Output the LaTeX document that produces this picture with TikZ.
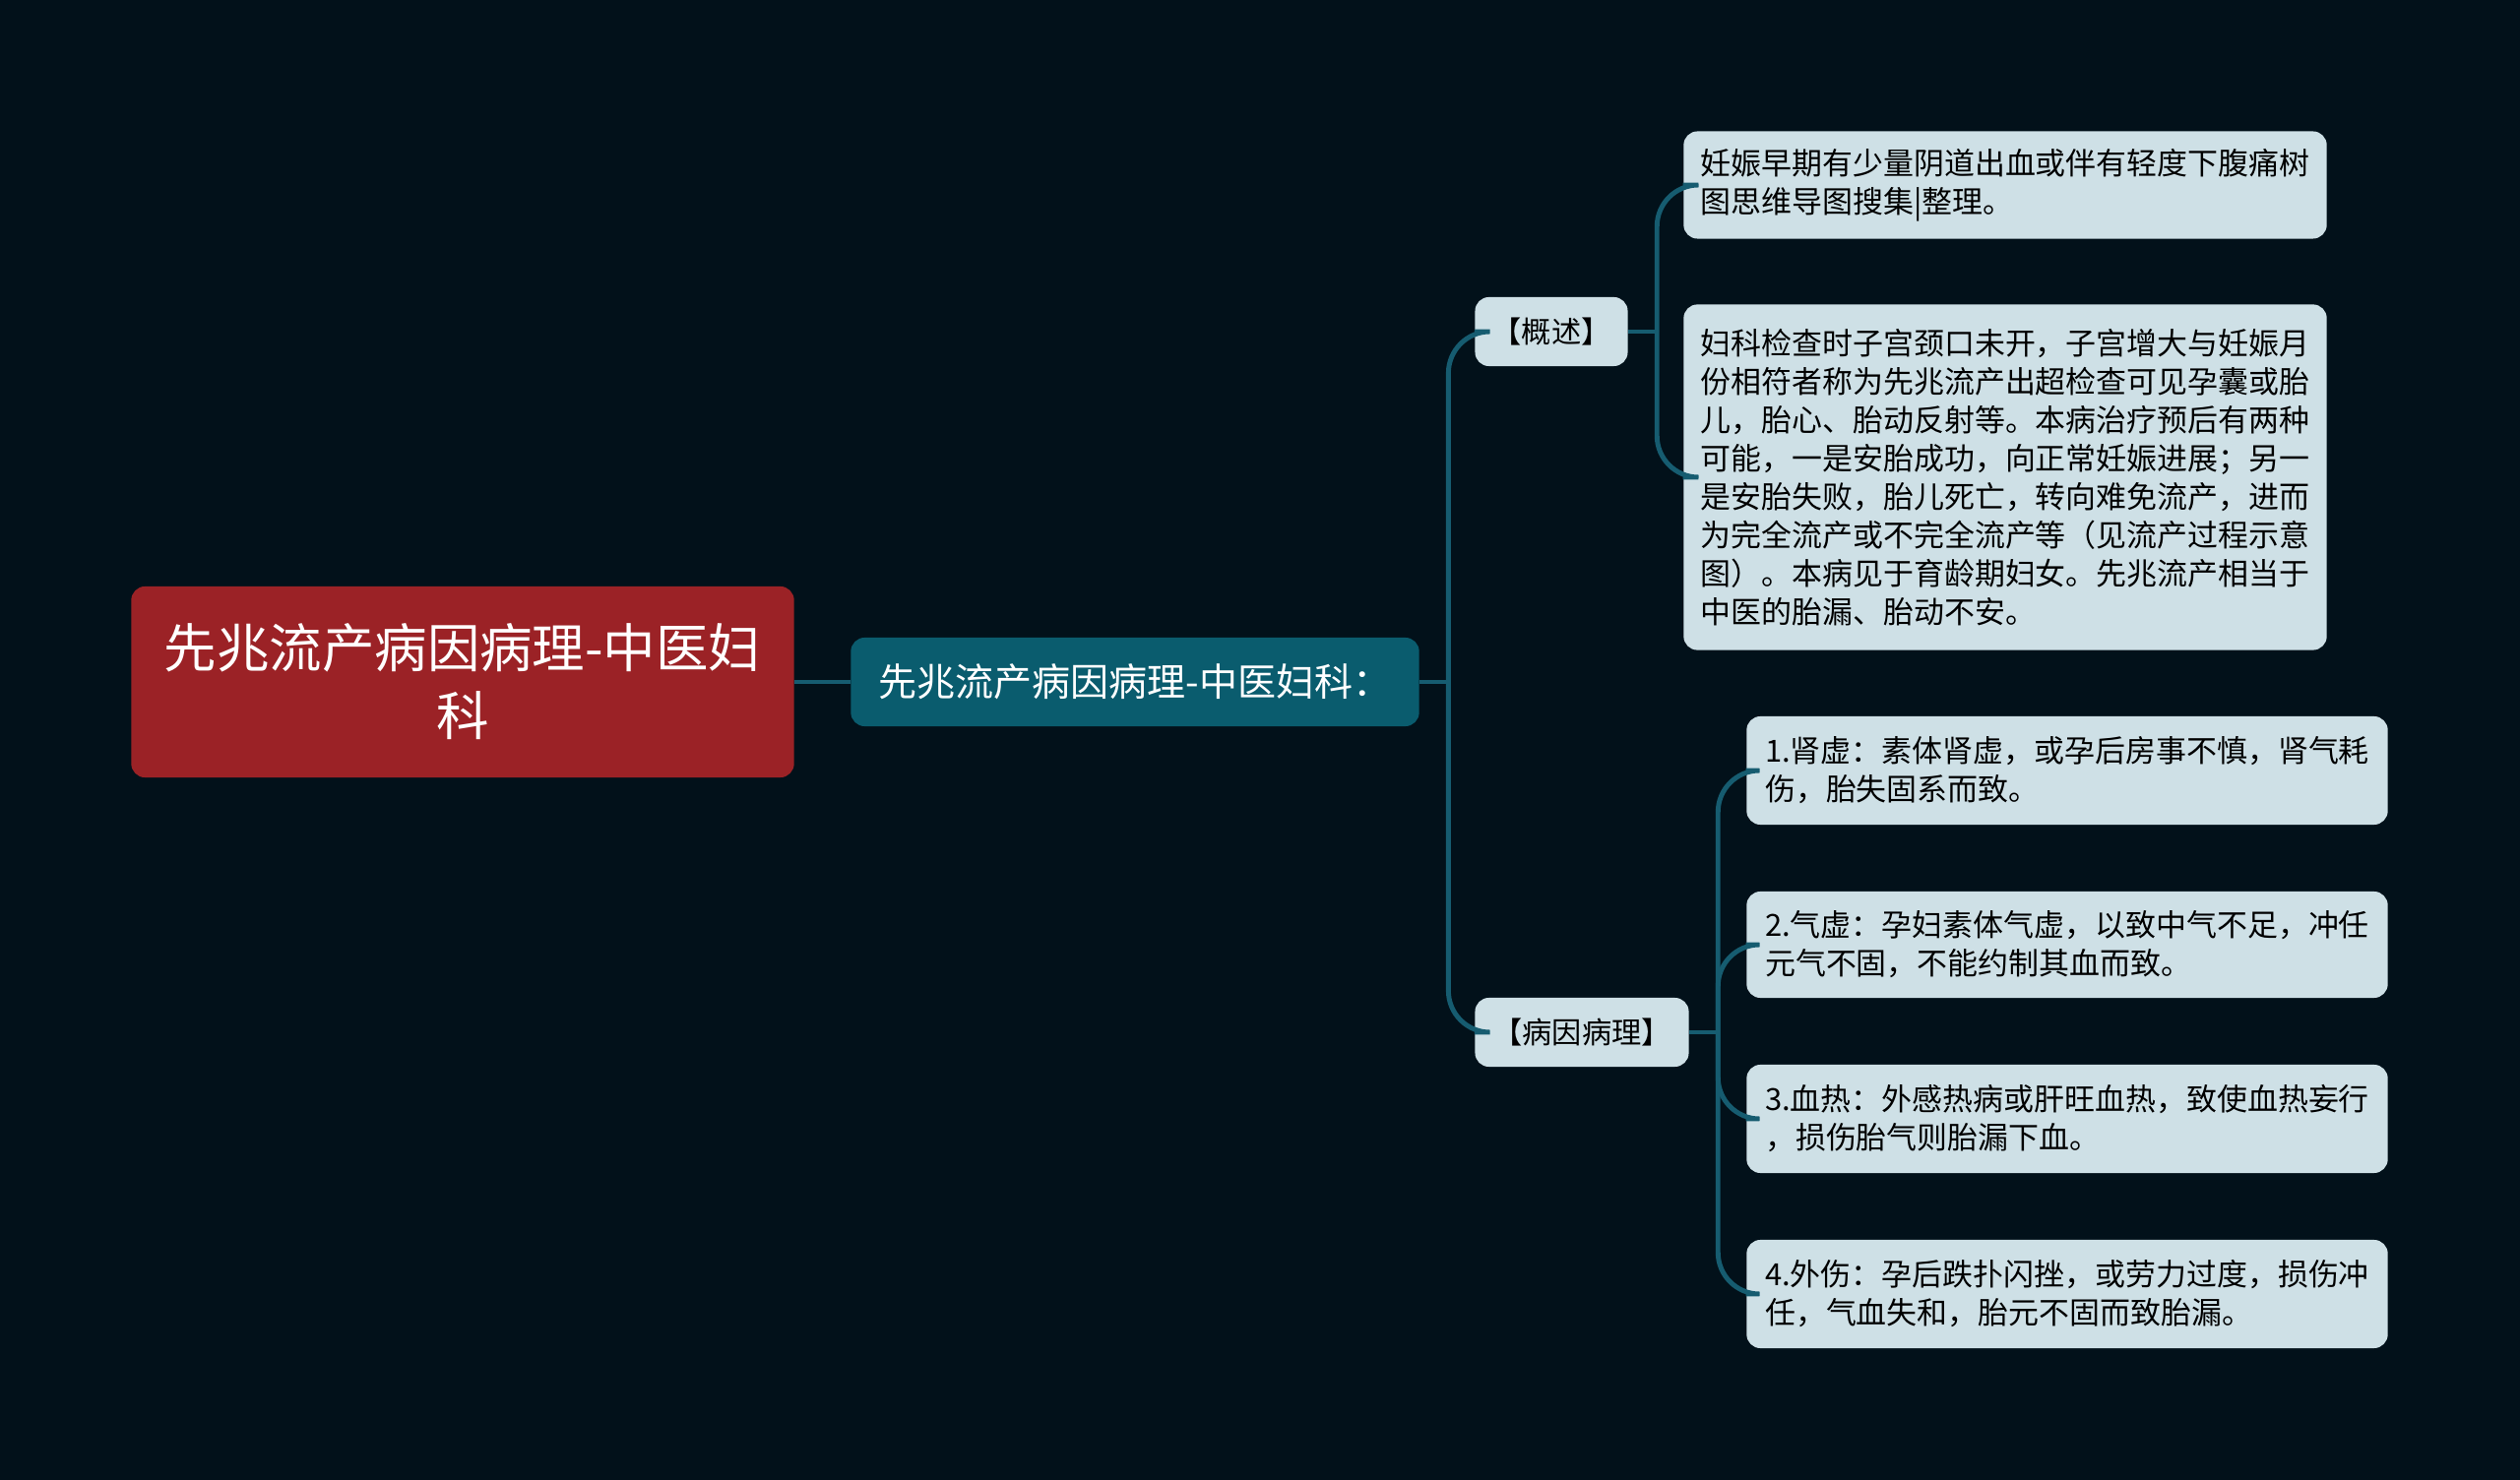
\documentclass[tikz,border=0pt]{standalone}
\usepackage{fontspec}
\setmainfont{Noto Sans CJK SC}
\usepackage{tikz}
\usetikzlibrary{calc}
\definecolor{bgcol}{RGB}{2,17,26}
\definecolor{rootcol}{RGB}{155,34,38}
\definecolor{maincol}{RGB}{10,92,110}
\definecolor{leafcol}{RGB}{206,224,230}
\definecolor{linkcol}{RGB}{22,92,112}
\tikzset{
  rootbox/.style={fill=rootcol, rounded corners=4pt, text=white, align=center,
    minimum width=6.73cm, minimum height=1.94cm, inner sep=0pt,
    font=\fontsize{15.2pt}{19.6pt}\selectfont},
  mainbox/.style={fill=maincol, rounded corners=4pt, text=white,
    minimum width=5.77cm, minimum height=0.9cm, inner sep=0pt,
    font=\fontsize{11.1pt}{13pt}\selectfont},
  tagbox/.style={fill=leafcol, rounded corners=4pt, text=black,
    minimum height=0.7cm, inner sep=0pt,
    font=\fontsize{8.6pt}{10.5pt}\selectfont},
  leafbox/.style={fill=leafcol, rounded corners=4pt, text=black, align=left,
    inner sep=0pt, font=\fontsize{8.8pt}{11.1pt}\selectfont},
  link/.style={draw=linkcol, line width=1.4pt, rounded corners=12}
}
\begin{document}
\begin{tikzpicture}[x=0.01cm, y=-0.01cm]
    \fill[bgcol] (0,0) rectangle (2560,1504);
    \useasboundingbox (0,0) rectangle (2560,1504);

    % nodes
    \node[rootbox] (root) at (470,693) {先兆流产病因病理-中医妇\\科};
    \node[mainbox] (main) at (1153,693) {先兆流产病因病理-中医妇科：};

    \node[tagbox, minimum width=1.55cm] (gaishu) at (1576,337) {【概述】};
    \node[tagbox, minimum width=2.17cm] (bingyin) at (1607,1049) {【病因病理】};

    \node[leafbox, minimum width=6.53cm, minimum height=1.09cm] (gs1) at (2037,188)
      {妊娠早期有少量阴道出血或伴有轻度下腹痛树\\图思维导图搜集|整理。};
    \node[leafbox, minimum width=6.53cm, minimum height=3.51cm] (gs2) at (2037,485)
      {妇科检查时子宫颈口未开，子宫增大与妊娠月\\
       份相符者称为先兆流产出超检查可见孕囊或胎\\
       儿，胎心、胎动反射等。本病治疗预后有两种\\
       可能，一是安胎成功，向正常妊娠进展；另一\\
       是安胎失败，胎儿死亡，转向难免流产，进而\\
       为完全流产或不完全流产等（见流产过程示意\\
       图）。本病见于育龄期妇女。先兆流产相当于\\
       中医的胎漏、胎动不安。};

    \node[leafbox, minimum width=6.51cm, minimum height=1.1cm] (by1) at (2100,783)
      {1.肾虚：素体肾虚，或孕后房事不慎，肾气耗\\伤，胎失固系而致。};
    \node[leafbox, minimum width=6.51cm, minimum height=1.08cm] (by2) at (2100,960)
      {2.气虚：孕妇素体气虚，以致中气不足，冲任\\元气不固，不能约制其血而致。};
    \node[leafbox, minimum width=6.51cm, minimum height=1.1cm] (by3) at (2100,1137)
      {3.血热：外感热病或肝旺血热，致使血热妄行\\，损伤胎气则胎漏下血。};
    \node[leafbox, minimum width=6.51cm, minimum height=1.1cm] (by4) at (2100,1315)
      {4.外伤：孕后跌扑闪挫，或劳力过度，损伤冲\\任，气血失和，胎元不固而致胎漏。};

    % links
    \coordinate (mj) at ($(main.east)+(29,0)$);
    \coordinate (gj) at ($(gaishu.east)+(29,0)$);
    \coordinate (bj) at ($(bingyin.east)+(29,0)$);

    \draw[link] (root.east) -- (main.west);
    \draw[link] (main.east) -- (mj);
    \draw[link] (mj) |- (gaishu.west);
    \draw[link] (mj) |- (bingyin.west);

    \draw[link] (gaishu.east) -- (gj);
    \foreach \n in {gs1,gs2}
      \draw[link] (gj) |- (\n.west);
    \draw[link] (bingyin.east) -- (bj);
    \foreach \n in {by1,by2,by3,by4}
      \draw[link] (bj) |- (\n.west);
\end{tikzpicture}
\end{document}
